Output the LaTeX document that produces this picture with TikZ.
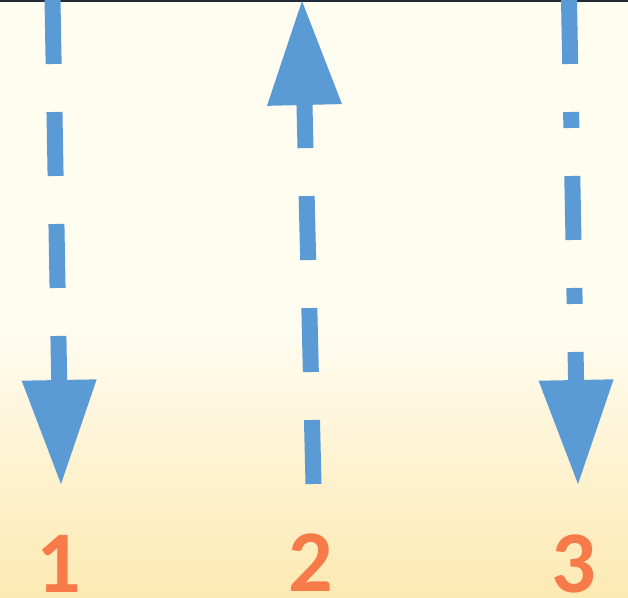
\documentclass[tikz,border=0pt]{standalone}
\usepackage{fontspec}
\newfontfamily\digitfont{Carlito}
\usetikzlibrary{arrows.meta}
\definecolor{cream}{RGB}{255,252,240}
\definecolor{sand}{RGB}{253,233,178}
\definecolor{arrowblue}{RGB}{91,155,213}
\definecolor{digitorange}{RGB}{247,123,72}
\definecolor{rim}{RGB}{35,42,56}
\begin{document}
\begin{tikzpicture}[x=1pt, y=-1pt,
    flow/.style={line width=16pt, arrowblue,
      -{Triangle[width=75pt, length=104pt, line width=0pt]}},
    digit/.style={anchor=base, inner sep=0pt, text depth=0pt, text height=56pt,
      text=digitorange, font=\digitfont\bfseries\fontsize{88}{88}\selectfont}]
  \useasboundingbox (0,0) rectangle (628,597);
  % background
  \fill[cream] (0,0) rectangle (628,330);
  \shade[top color=cream, bottom color=sand] (0,330) rectangle (628,597);
  \fill[rim] (0,0) rectangle (628,1.5);
  % ends of the arrows
  \coordinate (top1) at (52.5,0);
  \coordinate (tip1) at (61,484);
  \coordinate (foot2) at (313.5,484);
  \coordinate (tip2) at (302,1);
  \coordinate (top3) at (569,0);
  \coordinate (tip3) at (578,484);
  \draw[flow, dash pattern=on 64pt off 48pt] (top1) -- (tip1);
  \draw[flow, dash pattern=on 64pt off 48pt] (foot2) -- (tip2);
  \draw[flow, dash pattern=on 64pt off 48pt on 16pt off 48pt] (top3) -- (tip3);
  % numbers
  \node[digit] (n1) at (58.5,592) {1};
  \node[digit] (n2) at (311,591) {2};
  \node[digit] (n3) at (574,592) {3};
\end{tikzpicture}
\end{document}
